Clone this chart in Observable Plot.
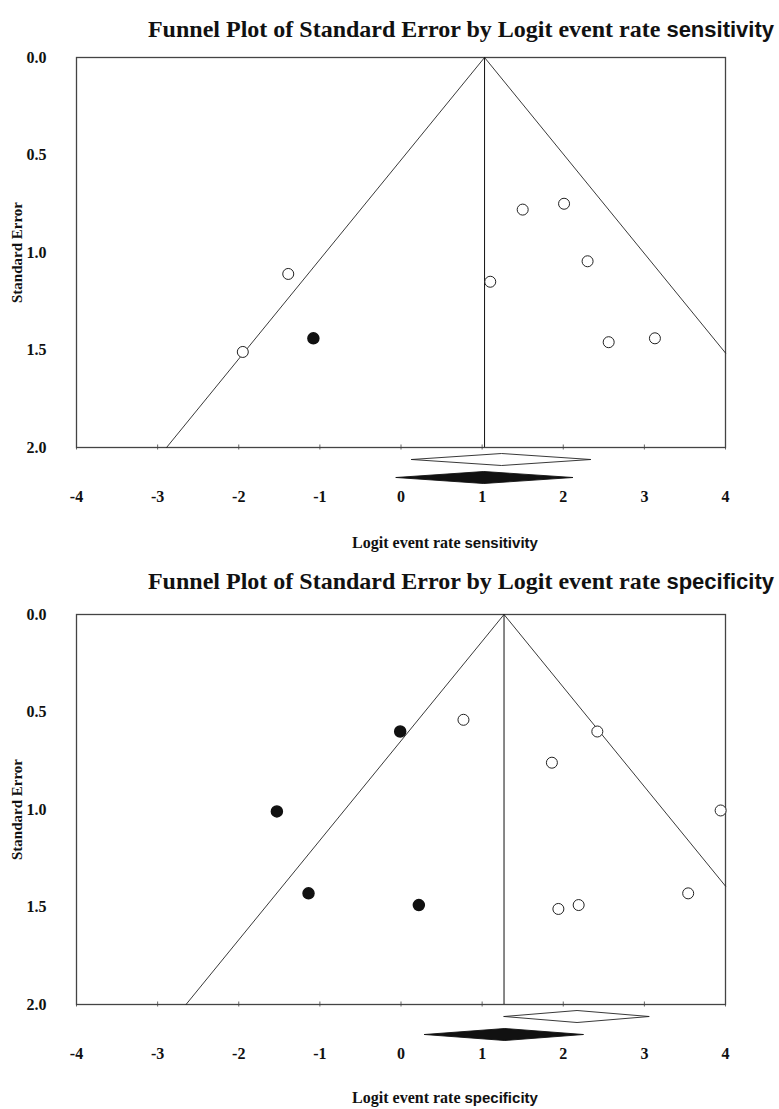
<!DOCTYPE html>
<html><head><meta charset="utf-8">
<script src="https://cdn.jsdelivr.net/npm/d3@7"></script>
<script src="https://cdn.jsdelivr.net/npm/@observablehq/plot@0.6"></script>
<style>
body{margin:0;background:#fff;width:779px;height:1109px;position:relative;overflow:hidden}
.title{position:absolute;right:5px;font:bold 24px "Liberation Serif";white-space:nowrap;color:#111;line-height:28px}
.sans{font-family:"Liberation Sans";font-size:22px}
.xlab{position:absolute;font:bold 16px "Liberation Serif";transform:translateX(-50%);white-space:nowrap;color:#111;line-height:18px}
.xlab .sans{font-size:15px}
.chart{position:absolute;left:0}
</style></head><body>
<div class="title" style="top:15px">Funnel Plot of Standard Error by Logit event rate <span class="sans">sensitivity</span></div>
<div class="chart" id="c1" style="top:45px"></div>
<div class="xlab" style="top:534px;left:445px">Logit event rate <span class="sans">sensitivity</span></div>
<div class="title" style="top:567px">Funnel Plot of Standard Error by Logit event rate <span class="sans">specificity</span></div>
<div class="chart" id="c2" style="top:602px"></div>
<div class="xlab" style="top:1089px;left:445px">Logit event rate <span class="sans">specificity</span></div>
<script>
// axis ticks
const xTicks = [-4, -3, -2, -1, 0, 1, 2, 3, 4];
const yTicks = [0, 0.5, 1, 1.5, 2];
const yTickLabels = ["0.0", "0.5", "1.0", "1.5", "2.0"];

// sensitivity
const sensOpenX  = [-1.39, -1.95, 1.10, 1.50, 2.01, 2.30, 2.56, 3.13];
const sensOpenSE = [1.11, 1.51, 1.15, 0.78, 0.75, 1.045, 1.46, 1.44];
const sensFilledX  = [-1.08];
const sensFilledSE = [1.44];
const sensApex = 1.03;
const sensOpenDiamond   = [0.13, 1.24, 2.34];   // lower, estimate, upper
const sensFilledDiamond = [-0.06, 1.02, 2.12];

// specificity
const specOpenX  = [0.77, 2.42, 1.86, 3.94, 3.54, 1.94, 2.19];
const specOpenSE = [0.54, 0.60, 0.76, 1.005, 1.43, 1.51, 1.49];
const specFilledX  = [-0.01, -1.53, -1.14, 0.22];
const specFilledSE = [0.60, 1.01, 1.43, 1.49];
const specApex = 1.27;
const specOpenDiamond   = [1.27, 2.17, 3.06];
const specFilledDiamond = [0.29, 1.28, 2.25];

const Z = 1.96;
const plotH = 390, mTop = 12, mBottom = 64;
const pxPerSE = plotH / 2;

function build(openX, openSE, filledX, filledSE, apex, openD, filledD) {
  const xMin = xTicks[0], xMax = xTicks[xTicks.length - 1], seMax = yTicks[yTicks.length - 1];
  const seL = Math.min(seMax, (apex - xMin) / Z);
  const seR = Math.min(seMax, (xMax - apex) / Z);
  const funnel = [
    {x: apex - Z * seL, y: seL},
    {x: apex, y: 0},
    {x: apex + Z * seR, y: seR}
  ];
  const diamond = (d, offPx) => {
    const c = seMax + offPx / pxPerSE, h = 6 / pxPerSE;
    return [{x: d[0], y: c}, {x: d[1], y: c - h}, {x: d[2], y: c}, {x: d[1], y: c + h}, {x: d[0], y: c}];
  };
  const open = openX.map((x, i) => ({x, y: openSE[i]}));
  const filled = filledX.map((x, i) => ({x, y: filledSE[i]}));
  const tk = 2.5 / pxPerSE;
  return Plot.plot({
    width: 779, height: mTop + plotH + mBottom,
    marginLeft: 76, marginRight: 54, marginTop: mTop, marginBottom: mBottom,
    style: {fontFamily: "Liberation Serif", fontWeight: "bold", color: "#111", overflow: "visible"},
    x: {domain: [xMin, xMax]},
    y: {domain: [0, seMax], reverse: true},
    marks: [
      Plot.ruleX(xTicks, {x: d => d, y1: seMax - tk, y2: seMax + tk, stroke: "#666"}),
      Plot.frame({stroke: "#444", strokeWidth: 1.3}),
      Plot.ruleX([apex], {y1: 0, y2: seMax, stroke: "#111", strokeWidth: 1}),
      Plot.line(funnel, {x: "x", y: "y", stroke: "#222", strokeWidth: 0.9}),
      Plot.dot(open, {x: "x", y: "y", r: 5.5, stroke: "#222", strokeWidth: 1, fill: "white"}),
      Plot.dot(filled, {x: "x", y: "y", r: 5.5, fill: "#111", stroke: "#111"}),
      Plot.line(diamond(openD, 12), {x: "x", y: "y", stroke: "#222", strokeWidth: 0.9, fill: "white"}),
      Plot.line(diamond(filledD, 30), {x: "x", y: "y", stroke: "#111", strokeWidth: 0.9, fill: "#111"}),
      Plot.axisY({ticks: yTicks, tickSize: 0, tickPadding: 30, fontSize: 16, tickFormat: (d, i) => yTickLabels[i], label: null}),
      Plot.axisX({ticks: xTicks, tickSize: 0, tickPadding: 43, fontSize: 16, tickFormat: d => String(d), label: null}),
      Plot.text(["Standard Error"], {frameAnchor: "left", textAnchor: "middle", rotate: -90, dx: -59, fontSize: 15, fontWeight: "bold"})
    ]
  });
}

document.getElementById("c1").append(build(sensOpenX, sensOpenSE, sensFilledX, sensFilledSE, sensApex, sensOpenDiamond, sensFilledDiamond));
document.getElementById("c2").append(build(specOpenX, specOpenSE, specFilledX, specFilledSE, specApex, specOpenDiamond, specFilledDiamond));
</script>
</body></html>
